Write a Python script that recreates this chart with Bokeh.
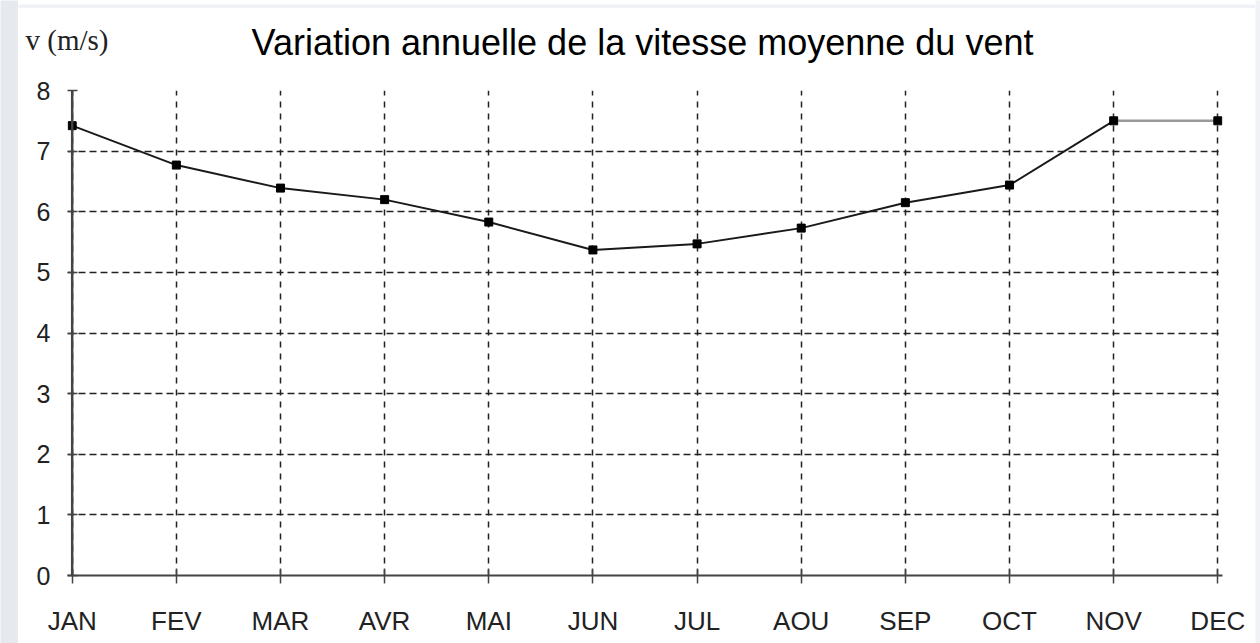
from bokeh.plotting import figure
from bokeh.models import Range1d, FixedTicker, Span, Row, Column
from bokeh.core.properties import value
from bokeh.embed import file_html
from bokeh.resources import INLINE

months = ["JAN", "FEV", "MAR", "AVR", "MAI", "JUN", "JUL", "AOU", "SEP", "OCT", "NOV", "DEC"]
speed = [7.42, 6.77, 6.39, 6.2, 5.83, 5.37, 5.47, 5.73, 6.15, 6.44, 7.5, 7.5]
y_ticks = [0, 1, 2, 3, 4, 5, 6, 7, 8]
title_text = "Variation annuelle de la vitesse moyenne du vent"
y_label_text = "v (m/s)"

W = 1237
HEAD_H = 67

idx = list(range(len(months)))


def strip(w, h, color):
    f = figure(width=w, height=h, output_backend="svg", toolbar_location=None,
               x_axis_type=None, y_axis_type=None,
               min_border_left=0, min_border_right=0, min_border_top=0, min_border_bottom=0)
    f.outline_line_color = None
    f.grid.visible = False
    f.background_fill_color = color
    f.border_fill_color = color
    return f


left_strip = strip(18, 643, "#e6e9ee")
top_strip = strip(W, 8, "#f0f1f6")
right_strip = strip(5, 643, "#f1f2f6")

# header strip holding the title and the y-axis label (pixel coordinates)
head = figure(width=W, height=HEAD_H, output_backend="svg", toolbar_location=None,
              x_range=Range1d(0, W), y_range=Range1d(0, HEAD_H),
              x_axis_type=None, y_axis_type=None,
              min_border_left=0, min_border_right=0, min_border_top=0, min_border_bottom=0)
head.outline_line_color = None
head.grid.visible = False
head.text(x=[624], y=[33], text=[title_text], text_align="center",
          text_baseline="alphabetic", text_font=value("Liberation Sans"),
          text_font_size="36px", text_color="black")
head.text(x=[7], y=[36], text=[y_label_text], text_align="left",
          text_baseline="alphabetic", text_font=value("Liberation Serif"),
          text_font_size="29px", text_color="#222222")

pad = 0.045
p = figure(width=W, height=568, output_backend="svg", toolbar_location=None,
           x_range=Range1d(-pad, len(months) - 1 + pad), y_range=Range1d(0, 8),
           min_border_left=49, min_border_right=33, min_border_top=15, min_border_bottom=68)
p.outline_line_color = None

for ax in (p.xaxis, p.yaxis):
    ax.axis_line_color = "#444444"
    ax.axis_line_width = 2
    ax.major_tick_line_color = "#444444"
    ax.major_tick_line_width = 1.5
    ax.minor_tick_line_color = None
    ax.major_label_text_font = "Liberation Sans"
    ax.major_label_text_color = "#222222"

p.xaxis.ticker = FixedTicker(ticks=idx)
p.xaxis.major_label_overrides = {i: m for i, m in enumerate(months)}
p.xaxis.major_tick_in = 7
p.xaxis.major_tick_out = 8
p.xaxis.major_label_standoff = 22
p.xaxis.major_label_text_font_size = "26px"

p.yaxis.ticker = FixedTicker(ticks=y_ticks)
p.yaxis.axis_line_color = None
p.yaxis.major_tick_in = 10
p.yaxis.major_tick_out = 0
p.yaxis.major_label_standoff = 17
p.yaxis.major_label_text_font_size = "25px"

p.xgrid.ticker = FixedTicker(ticks=idx)
p.ygrid.ticker = FixedTicker(ticks=y_ticks)
p.xgrid.grid_line_color = "#222222"
p.ygrid.grid_line_color = "#222222"
p.xgrid.grid_line_width = 1.5
p.ygrid.grid_line_width = 1.5
p.xgrid.grid_line_dash = "6 6"
p.ygrid.grid_line_dash = "7 4"

p.add_layout(Span(location=0, dimension="height", line_color="#444444", line_width=2.5))

p.line(idx[:11], speed[:11], line_color="#1a1a1a", line_width=2)
p.line(idx[10:], speed[10:], line_color="#999999", line_width=2.5)
p.scatter(idx, speed, marker="square", size=8, fill_color="black", line_color="black")

center = Column(children=[Row(children=[top_strip]), Row(children=[head]), Row(children=[p])], spacing=0)
layout = Row(children=[Column(children=[left_strip]), center, Column(children=[right_strip])], spacing=0)
open("out.html", "w").write(file_html(layout, INLINE))
